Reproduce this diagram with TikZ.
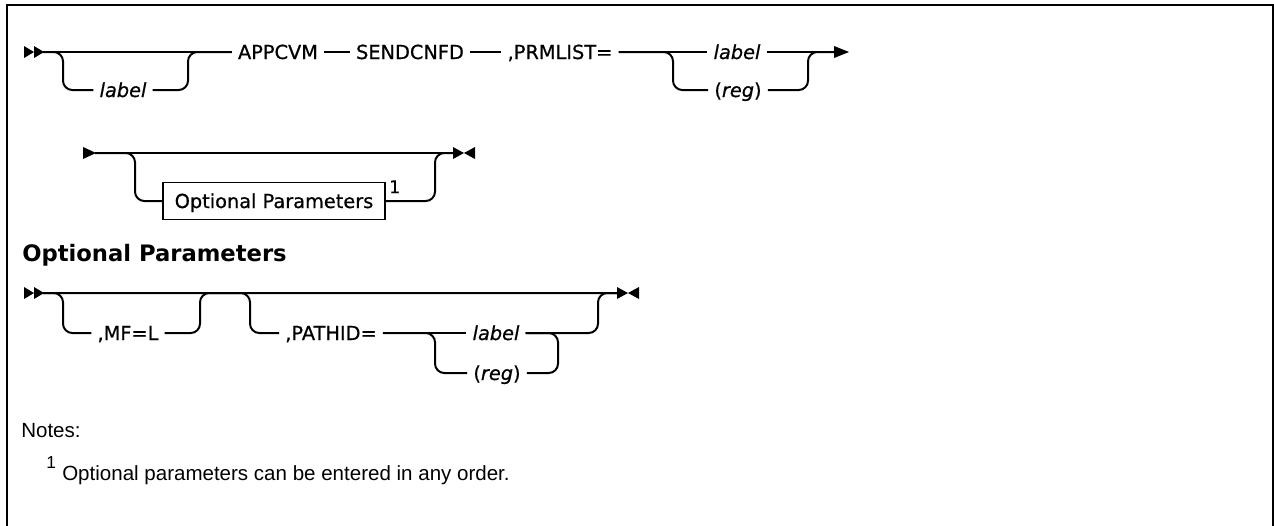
\documentclass[tikz,border=0pt]{standalone}
\usepackage{fontspec}
\setmainfont{DejaVu Sans}
\newfontfamily\synfont{DejaVu Sans}[FakeBold=0.7]
\newfontfamily\notefont{Liberation Sans}
\begin{document}
\begin{tikzpicture}[x=0.75pt,y=-0.75pt,
  ln/.style={line width=1.5pt},
  br/.style={line width=1.5pt, rounded corners=7pt},
  kw/.style={font=\synfont\fontsize{14.5}{17}\selectfont, inner xsep=4.5pt, inner ysep=0pt, text height=10.5pt, text depth=0pt},
  var/.style={kw, font=\synfont\fontsize{14.5}{17}\selectfont\itshape},
  optbox/.style={draw, line width=1pt, font=\synfont\fontsize{14.5}{17}\selectfont, inner sep=0pt, minimum width=166.5pt, minimum height=27.75pt, text height=10.5pt, text depth=0pt},
  supnum/.style={font=\synfont\fontsize{13}{15}\selectfont, inner sep=0pt, anchor=base west},
  heading/.style={font=\bfseries\fontsize{17}{20}\selectfont, inner sep=0pt, anchor=base west},
  notetext/.style={font=\notefont\fontsize{15.4}{18}\selectfont, inner sep=0pt, anchor=base west},
  notesup/.style={font=\notefont\fontsize{13}{15}\selectfont, inner sep=0pt, anchor=base west},
]
\useasboundingbox (0,0) rectangle (1274,525);
\draw[line width=1.5pt] (7,526) -- (7,5) -- (1273,5) -- (1273,526);

% ---------- Row 1 ----------
\coordinate (s1) at (43,52);
\fill (24,46) -- (34,52) -- (24,58) -- cycle;
\fill (34,46) -- (44,52) -- (34,58) -- cycle;
\node[kw]  (appcvm) at (278,52) {APPCVM};
\node[var] (lab1)   at (123,90) {label};
\node[kw]  (send)   at (410,52) {SENDCNFD};
\node[kw]  (prm)    at (560,52) {,PRMLIST=};
\node[var] (lab2)   at (737,52) {label};
\node[kw]  (reg1)   at (738,90) {(\textit{reg})};
\coordinate (e1) at (836,52);
\fill (834,46) -- (849,52) -- (834,58) -- cycle;

\draw[ln] (s1) -- (appcvm.west);
\draw[br] (s1) -| (63,90) -- (lab1.west);
\draw[br] (lab1.east) -| (188,52) -- (appcvm.west);
\draw[ln] (appcvm.east) -- (send.west);
\draw[ln] (send.east) -- (prm.west);
\draw[ln] (prm.east) -- (lab2.west);
\draw[ln] (lab2.east) -- (e1);
\draw[br] (prm.east) -| (673,90) -- (reg1.west);
\draw[br] (reg1.east) -| (808,52) -- (e1);

% ---------- Row 2 ----------
\coordinate (s2) at (95,153);
\fill (83,147) -- (96,153) -- (83,159) -- cycle;
\node[optbox] (opt) at (274,201) {Optional Parameters};
\node[supnum] (fn) at (389,193) {1};
\coordinate (e2) at (454,153);
\fill (453,147) -- (464,153) -- (453,159) -- cycle;
\fill (475,147) -- (464,153) -- (475,159) -- cycle;

\draw[ln] (s2) -- (e2);
\draw[br] (s2) -| (135,201) -- (opt.west);
\draw[br] (opt.east) -| (435,153) -- (e2);

% ---------- Heading ----------
\node[heading] (hd) at (22,261) {Optional Parameters};

% ---------- Row 3 ----------
\coordinate (s3) at (43,293);
\fill (24,287) -- (34,293) -- (24,299) -- cycle;
\fill (34,287) -- (44,293) -- (34,299) -- cycle;
\node[kw]  (mf)     at (128,333) {,MF=L};
\node[kw]  (pathid) at (331,333) {,PATHID=};
\node[var] (lab3)   at (496,333) {label};
\node[kw]  (reg3)   at (497,373) {(\textit{reg})};
\coordinate (e3) at (617,293);
\fill (617,287) -- (628,293) -- (617,299) -- cycle;
\fill (639,287) -- (628,293) -- (639,299) -- cycle;

\draw[ln] (s3) -- (e3);
\draw[br] (s3) -| (63,333) -- (mf.west);
\draw[br] (mf.east) -| (200,293) -- (e3);
\draw[br] (s3) -| (250,333) -- (pathid.west);
\draw[ln] (pathid.east) -- (lab3.west);
\draw[br] (lab3.east) -| (598,293) -- (e3);
\draw[br] (pathid.east) -| (435,373) -- (reg3.west);
\draw[br] (reg3.east) -| (558,333) -- (lab3.east);

% ---------- Notes ----------
\node[notetext] (notes) at (21,437) {Notes:};
\node[notesup]  (nsup)  at (46,468) {1};
\node[notetext] (note1) at (62,480) {Optional parameters can be entered in any order.};
\end{tikzpicture}
\end{document}
